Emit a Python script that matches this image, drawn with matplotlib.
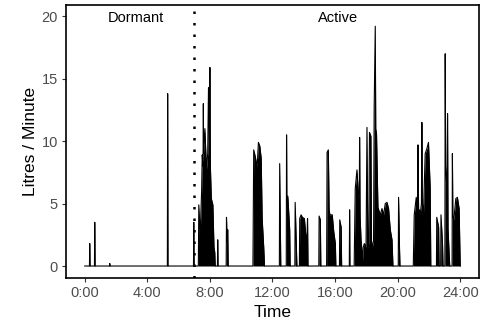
import numpy as np
import matplotlib.pyplot as plt

plt.rcParams['font.family'] = ['Liberation Sans', 'DejaVu Sans']

# flow record, hours since midnight vs litres/minute
time_h = [
    0.00, 0.30, 0.32, 0.34, 0.62, 0.64, 0.66, 1.58, 1.60, 1.62,
    5.28, 5.30, 5.32, 6.95, 6.97, 6.99,
    # morning burst
    7.26, 7.29, 7.36, 7.40, 7.47, 7.51, 7.56, 7.58, 7.60, 7.68, 7.78, 7.86,
    7.91, 7.97, 8.00, 8.03, 8.09, 8.19, 8.26, 8.31, 8.34,
    8.48, 8.50, 8.52, 9.04, 9.06, 9.10, 9.14, 9.17,
    # late morning
    10.75, 10.80, 10.91, 11.02, 11.10, 11.19, 11.28, 11.34, 11.44, 11.49,
    12.44, 12.46, 12.50, 12.53, 12.88, 12.90, 12.92, 12.98, 13.10, 13.13,
    13.43, 13.45, 13.53, 13.56,
    13.72, 13.74, 13.83, 13.91, 14.04, 14.12, 14.20, 14.24, 14.27,
    14.96, 14.98, 15.06, 15.09,
    15.46, 15.49, 15.57, 15.62, 15.67, 15.82, 15.92, 16.02, 16.05,
    16.28, 16.30, 16.39, 16.42, 16.91, 16.93, 16.95,
    # evening
    17.22, 17.29, 17.40, 17.50, 17.55, 17.57, 17.60, 17.66, 17.70, 17.75,
    17.80, 17.87, 17.98, 18.04, 18.09, 18.15, 18.20, 18.29, 18.33, 18.38,
    18.46, 18.50, 18.57, 18.60, 18.65, 18.74, 18.89, 19.00, 19.10, 19.21,
    19.32, 19.42, 19.53, 19.64, 19.70,
    20.04, 20.06, 20.12, 20.15,
    21.00, 21.06, 21.19, 21.27, 21.30, 21.34, 21.38, 21.44, 21.52, 21.55,
    21.58, 21.65, 21.76, 21.87, 21.97, 22.08, 22.12,
    22.48, 22.50, 22.62, 22.65, 22.75, 22.77, 22.87, 22.90,
    23.02, 23.04, 23.07, 23.16, 23.19, 23.22, 23.30, 23.33,
    23.48, 23.50, 23.53, 23.59, 23.72, 23.82, 23.93, 24.00,
]
flow = [
    0, 0, 1.8, 0, 0, 3.5, 0, 0, 0.2, 0,
    0, 13.8, 0, 0, 3.5, 0,
    0, 4.9, 3.0, 3.3, 6.0, 8.9, 8.0, 13.0, 9.0, 11.0, 7.7, 9.0,
    14.3, 10.0, 15.9, 8.0, 5.4, 4.9, 1.5, 1.1, 0,
    0, 2.1, 0, 0, 3.9, 2.0, 2.9, 0,
    0, 9.3, 8.7, 7.9, 9.9, 9.6, 8.6, 3.8, 1.5, 0,
    0, 8.2, 3.7, 0, 0, 10.5, 5.0, 5.6, 2.9, 0,
    0, 5.1, 1.4, 0,
    0, 3.8, 4.1, 3.9, 3.8, 2.6, 2.0, 3.8, 0,
    0, 4.0, 3.7, 0,
    0, 9.1, 9.3, 4.5, 4.1, 4.1, 2.7, 1.8, 0,
    0, 3.7, 3.1, 0, 0, 4.5, 0,
    0, 6.2, 7.7, 5.5, 6.0, 10.3, 4.0, 2.1, 1.5, 0.3,
    1.5, 1.8, 1.5, 11.1, 1.5, 1.8, 10.7, 10.4, 2.0, 1.5,
    2.0, 12.7, 19.2, 11.0, 10.6, 4.7, 4.1, 4.6, 4.1, 5.0,
    5.1, 4.6, 2.9, 2.1, 0,
    0, 5.5, 1.4, 0,
    0, 4.1, 5.5, 4.5, 9.7, 4.5, 4.5, 4.1, 5.0, 11.5,
    5.0, 4.1, 9.0, 9.4, 9.9, 6.3, 0,
    0, 3.9, 3.1, 0, 0, 4.1, 1.7, 0,
    0, 17.0, 8.0, 6.0, 12.2, 3.0, 0.7, 0,
    0, 9.0, 4.0, 3.7, 5.4, 5.5, 4.6, 0,
]
x_ticks = [0, 4, 8, 12, 16, 20, 24]
x_labels = ['0:00', '4:00', '8:00', '12:00', '16:00', '20:00', '24:00']
y_ticks = [0, 5, 10, 15, 20]
switch_hour = 7.0
phase_labels = ['Dormant', 'Active']
phase_x = [3.25, 16.2]

fig = plt.figure(figsize=(4.83, 3.23), dpi=100)
ax = fig.add_axes([0.1366, 0.1393, 0.8551, 0.8452])

ax.fill_between(time_h, flow, 0, color='black', linewidth=0)
ax.plot(time_h, flow, color='black', lw=0.8)

ax.axvline(switch_hour, color='black', lw=1.8, linestyle=(0, (1, 3.6)),
           dash_capstyle='butt')

for lab, xx in zip(phase_labels, phase_x):
    ax.text(xx, 19.85, lab, ha='center', va='center', fontsize=10.5)

ax.set_xlim(-1.2, 25.2)
ax.set_ylim(-0.96, 20.9)
ax.set_xticks(x_ticks)
ax.set_xticklabels(x_labels)
ax.set_yticks(y_ticks)
ax.tick_params(colors='#333333', labelcolor='#4d4d4d', labelsize=10.5,
               length=3.2, width=0.8, pad=2.5)
for s in ax.spines.values():
    s.set_linewidth(1.2)
ax.set_xlabel('Time', fontsize=12.5, labelpad=3.5)
ax.set_ylabel('Litres / Minute', fontsize=12.5, labelpad=3)

fig.savefig('out.png', dpi=100)
